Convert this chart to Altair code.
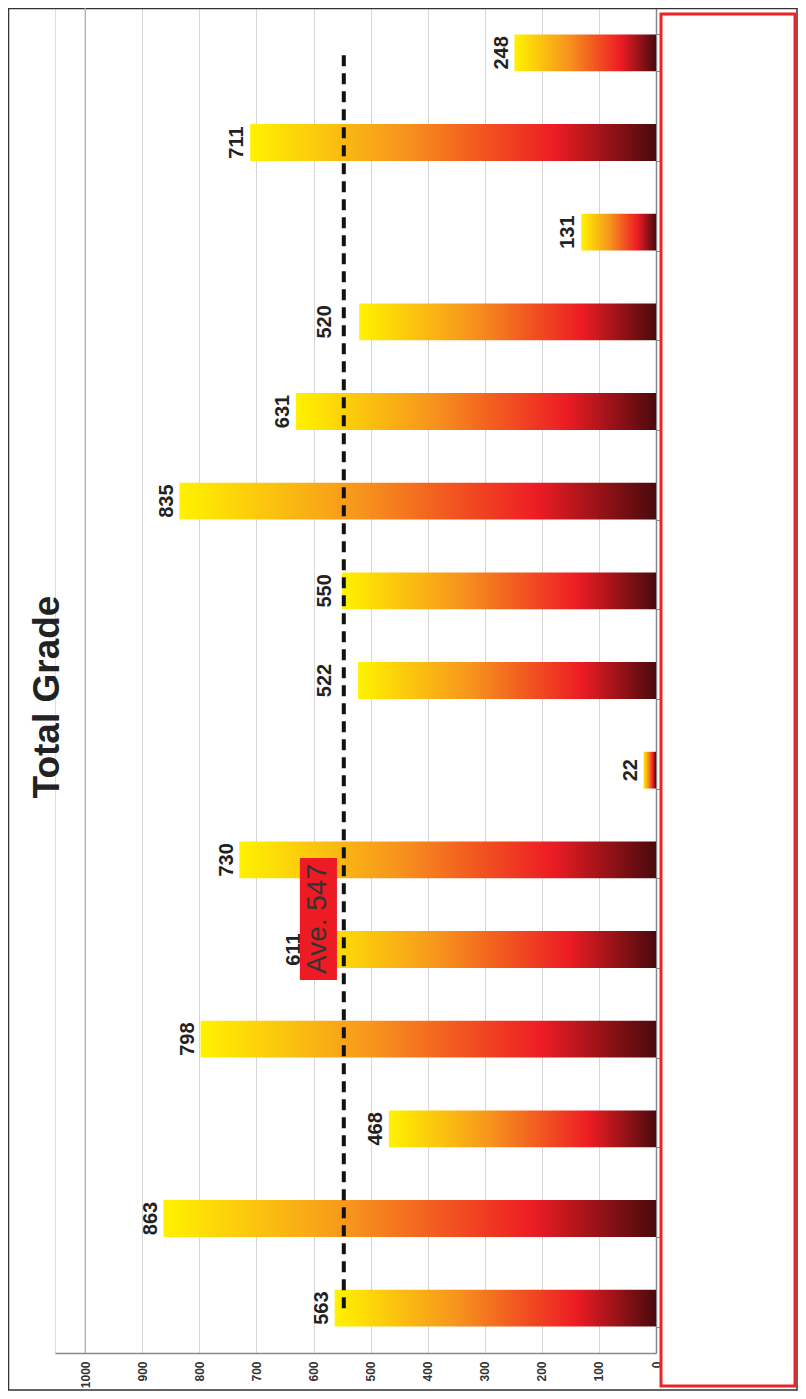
import altair as alt
import pandas as pd

categories = [str(i) for i in range(1, 16)]
values = [563, 863, 468, 798, 611, 730, 22, 522, 550, 835, 631, 520, 131, 711, 248]
average = 547
tick_values = [0, 100, 200, 300, 400, 500, 600, 700, 800, 900, 1000]

df = pd.DataFrame({"cat": categories, "val": values})
# order: first category at bottom, last at top
order = categories[::-1]

W, H = 601, 1345
FONT = "Liberation Sans"

xscale = alt.Scale(domain=[0, 1053], reverse=True, nice=False, zero=True)
yscale = alt.Scale(domain=order, paddingInner=0.59, paddingOuter=0.295)

grad = {
    "gradient": "linear",
    "x1": 0, "y1": 0, "x2": 1, "y2": 0,
    "stops": [
        {"offset": 0.0, "color": "#FFF200"},
        {"offset": 0.38, "color": "#F7941D"},
        {"offset": 0.75, "color": "#ED1C24"},
        {"offset": 1.0, "color": "#4A0A0C"},
    ],
}

base = alt.Chart(df)

bars = base.mark_bar(color=grad, cornerRadius=0).encode(
    x=alt.X("val:Q", scale=xscale, title=None,
            axis=alt.Axis(values=tick_values, format="d", labelAngle=270, labelFontSize=12,
                          labelFontWeight="bold", labelColor="#333", labelFont=FONT,
                          grid=True, gridColor="#d6d6d6", gridWidth=1,
                          ticks=False, domainColor="#888", domainWidth=1.5,
                          labelPadding=8)),
    y=alt.Y("cat:N", scale=yscale, title=None, sort=order,
            axis=alt.Axis(orient="right", labels=False, grid=False, tickBand="extent",
                          ticks=True, tickSize=4, tickColor="#888",
                          domainColor="#888", domainWidth=1.5)),
)

top_grid = alt.Chart(pd.DataFrame({"g": [tick_values[-1]]})).mark_rule(
    color="#aaaaaa", strokeWidth=1.2
).encode(x=alt.X("g:Q", scale=xscale))

# labels sit just beyond the bar end; those crowded by the average line move left of it
labels = base.transform_calculate(
    lx=f"(datum.val > {average - 40} && datum.val < {average + 10}) ? {average + 22} : datum.val + 12"
).mark_text(angle=270, align="center", baseline="alphabetic",
            fontSize=20, fontWeight="bold", font=FONT, color="#222").encode(
    x=alt.X("lx:Q", scale=xscale),
    y=alt.Y("cat:N", scale=yscale, sort=order),
    text=alt.Text("val:Q"),
)

avg_df = pd.DataFrame({"a": [average], "c1": [categories[0]], "c2": [categories[-1]]})
avg_line = alt.Chart(avg_df).mark_rule(color="#111", strokeWidth=4,
                                       strokeDash=[11, 7]).encode(
    x=alt.X("a:Q", scale=xscale),
    y=alt.Y("c1:N", scale=yscale, sort=order),
    y2="c2:N",
)

ave_box_df = pd.DataFrame({"x1": [624], "x2": [559]})
ave_box = alt.Chart(ave_box_df).mark_rect(color="#ED1C24").encode(
    x=alt.X("x1:Q", scale=xscale),
    x2="x2:Q",
    y=alt.value(850),
    y2=alt.value(972),
)
ave_text = alt.Chart(pd.DataFrame({"t": [f"Ave. {average}"], "xv": [591.5]})).mark_text(
    angle=270, align="center", baseline="middle", fontSize=28, font=FONT, color="#333"
).encode(
    x=alt.X("xv:Q", scale=xscale),
    y=alt.value(911),
    text="t:N",
)

title = alt.Chart(pd.DataFrame({"t": ["Total Grade"]})).mark_text(
    angle=270, align="center", baseline="middle", fontSize=37, fontWeight="bold",
    font=FONT, color="#222"
).encode(x=alt.value(-7), y=alt.value(689), text="t:N")

frame = alt.Chart(pd.DataFrame({"k": [0]})).mark_rect(
    fill=None, stroke="#333", strokeWidth=1.5
).encode(x=alt.value(-46.5), x2=alt.value(742), y=alt.value(0.5), y2=alt.value(1382))

red_box = alt.Chart(pd.DataFrame({"k": [0]})).mark_rect(
    fill="white", stroke="#EE2229", strokeWidth=3
).encode(x=alt.value(606), x2=alt.value(740), y=alt.value(6), y2=alt.value(1378))

chart = alt.layer(frame, top_grid, bars, avg_line, labels, ave_box, ave_text, title, red_box).properties(
    width=W, height=H,
    autosize=alt.AutoSizeParams(type="none"),
    padding={"left": 47, "top": 0, "right": 142, "bottom": 38},
).configure_view(stroke=None).configure(background="white")

chart.save("out.html", embed_options={"renderer": "svg", "actions": False})
